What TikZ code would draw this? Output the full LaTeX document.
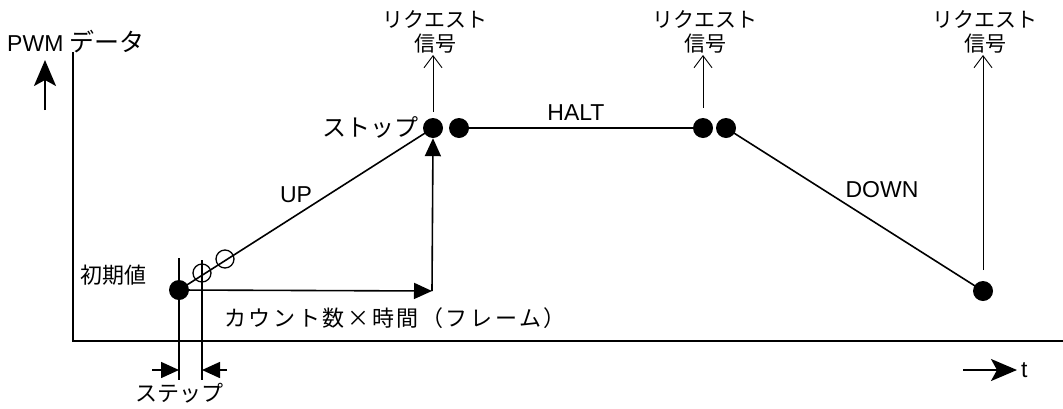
\documentclass[tikz,border=0pt]{standalone}
\usepackage{fontspec}
\setmainfont{Liberation Sans}
\newfontfamily\jp{Noto Sans CJK JP}
\newfontfamily\jpwide[LetterSpace=12]{Noto Sans CJK JP}
\usetikzlibrary{arrows.meta}
\begin{document}
\begin{tikzpicture}[x=1pt,y=-1pt,
  dot/.style={circle,fill=black,inner sep=0pt,minimum size=20pt},
  odot/.style={circle,draw=black,line width=1.3pt,inner sep=0pt,minimum size=18pt},
  mline/.style={line width=1.6pt},
  axisline/.style={line width=2pt},
  farrow/.style={line width=1.6pt,-{Triangle[length=18pt,width=16pt]}},
  sarrow/.style={line width=2pt,-{Stealth[length=26pt,width=22pt,inset=6pt]}},
  reqarrow/.style={line width=0.9pt,-{Straight Barb[length=12pt,width=18pt,line width=0.9pt]}},
  lab/.style={font=\fontsize{22}{24}\selectfont\jp,inner sep=0pt},
  req/.style={font=\fontsize{21}{24}\selectfont\jp,inner sep=0pt},
  latin/.style={font=\fontsize{23}{26}\selectfont,inner sep=0pt}]
\useasboundingbox (0,0) rectangle (1063,408);
% axes
\coordinate (o) at (73,341);
\coordinate (ytop) at (73,52);
\coordinate (xend) at (1063,341);
\draw[axisline] (ytop) -- (o) -- (xend);
\coordinate (ya0) at (45,110);
\coordinate (ya1) at (45,60);
\draw[sarrow] (ya0) -- (ya1);
\node[anchor=west,inner sep=0pt] (ylab) at (7,42) {\fontsize{23}{26}\selectfont PWM {\fontsize{25}{26}\selectfont\jp データ}};
\coordinate (ta0) at (963,370);
\coordinate (ta1) at (1017,370);
\draw[sarrow] (ta0) -- (ta1);
\node[latin,anchor=west] (tlab) at (1021,370) {t};
% dots
\node[dot] (d0) at (179,290) {};
\node[odot] (o1) at (202,273) {};
\node[odot] (o2) at (225,259) {};
\node[dot] (s1) at (433,128) {};
\node[dot] (s2) at (459,128) {};
\node[dot] (h1) at (703,128) {};
\node[dot] (h2) at (726,128) {};
\node[dot] (e1) at (983,291) {};
% step lines
\coordinate (v0t) at (179,258);
\coordinate (v0b) at (179,380);
\coordinate (v1t) at (202,260);
\coordinate (v1b) at (202,380);
\draw[mline] (v0t) -- (v0b);
\draw[mline] (v1t) -- (v1b);
\coordinate (sa0) at (152,370);
\coordinate (sa1) at (227,370);
\draw[farrow] (sa0) -- (v0b |- sa0);
\draw[farrow] (sa1) -- (v1b |- sa1);
\node[lab] (steplab) at (179,393) {ステップ};
% main profile
\draw[mline] (d0.center) -- (s1.center);
\draw[mline] (s2.center) -- (h1.center);
\draw[mline] (h2.center) -- (e1.center);
% count x time
\coordinate (c1) at (432,291);
\draw[farrow] (d0.center) -- (c1);
\draw[farrow] (c1) -- (s1.south);
\node[inner sep=0pt] (cnt) at (395,318) {\fontsize{22}{24}\selectfont\jpwide カウント数×時間（フレーム）};
% labels
\node[font=\fontsize{24}{26}\selectfont\jp,inner sep=0pt,anchor=east] (stoplab) at (419,127) {ストップ};
\node[latin] (up) at (296,195) {UP};
\node[latin] (halt) at (576,113) {HALT};
\node[latin] (down) at (882,190) {DOWN};
\node[lab] (init) at (113,275) {初期値};
% request signals
\coordinate (r1) at (433,55);
\coordinate (r2) at (703,55);
\coordinate (r3) at (983,55);
\coordinate (r3b) at (983,270);
\draw[reqarrow] ([yshift=6pt]s1.north) -- (r1);
\draw[reqarrow] ([yshift=10pt]h1.north) -- (r2);
\draw[reqarrow] (r3b) -- (r3);
\node[req,align=center,anchor=south] (q1) at (435,53) {リクエスト\\信号};
\node[req,align=center,anchor=south] (q2) at (705,53) {リクエスト\\信号};
\node[req,align=center,anchor=south] (q3) at (985,53) {リクエスト\\信号};
\end{tikzpicture}
\end{document}
